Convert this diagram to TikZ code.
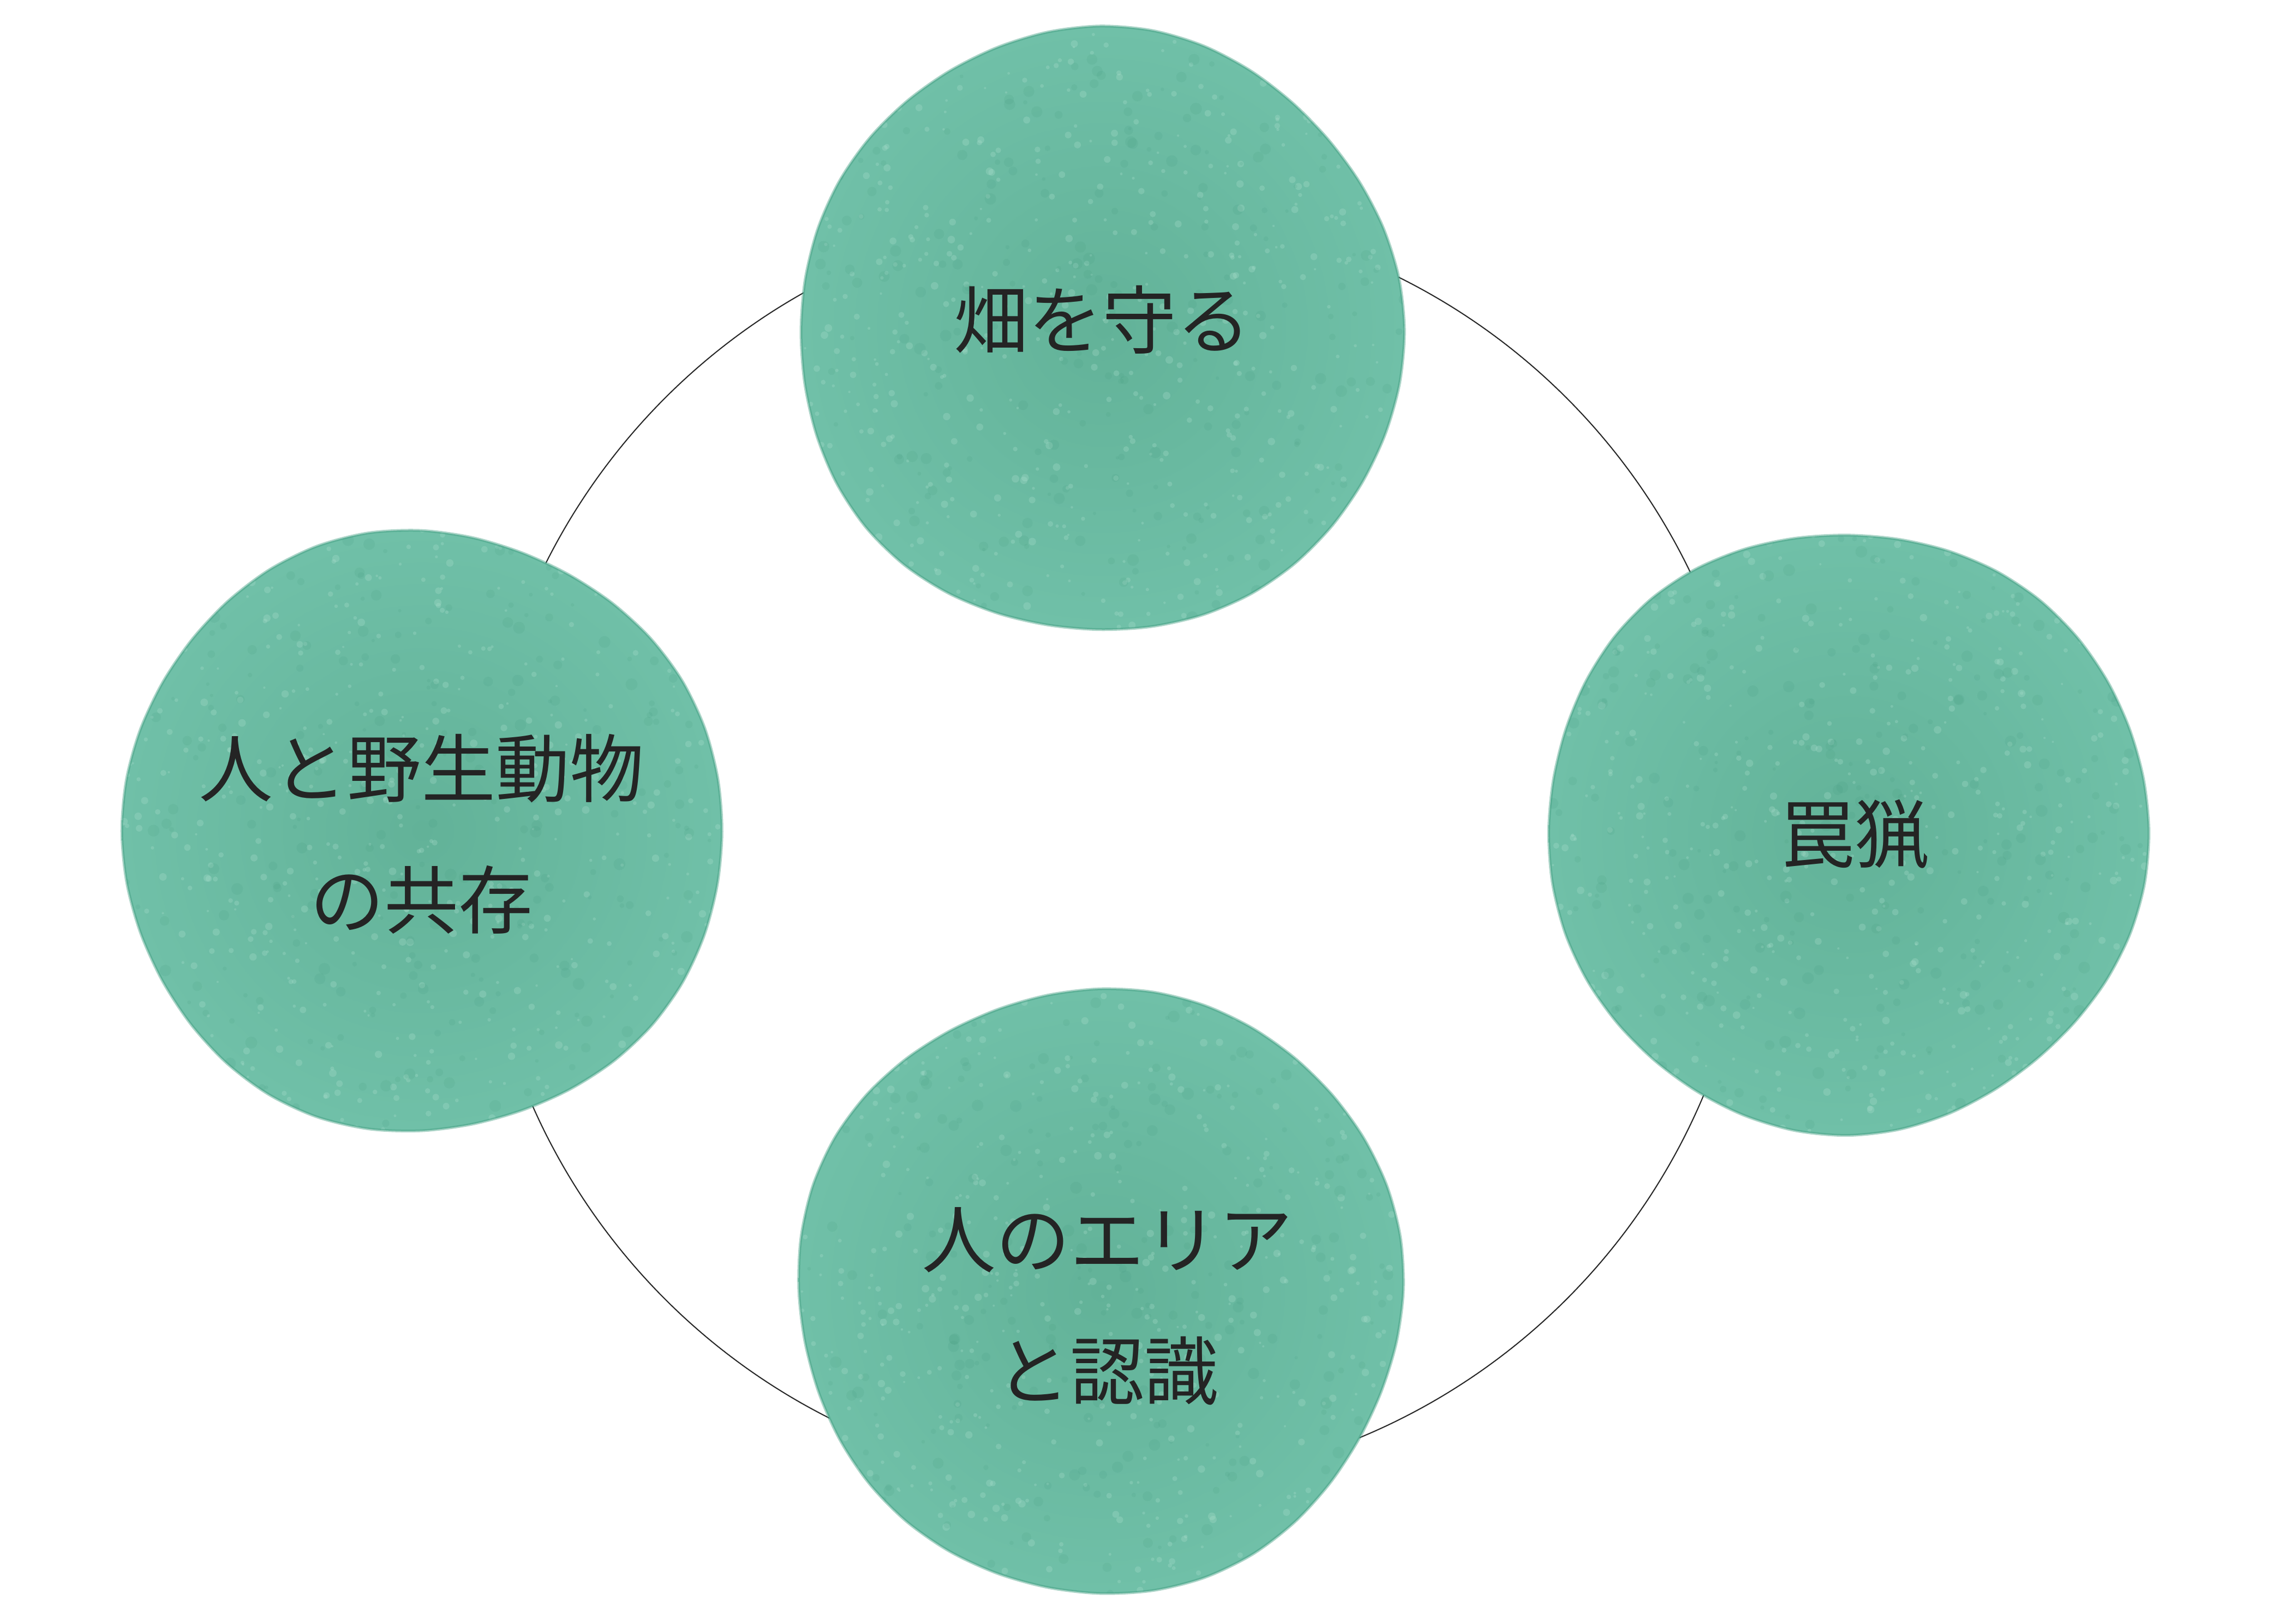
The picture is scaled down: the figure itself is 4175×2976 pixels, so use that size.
\documentclass[tikz,border=0pt]{standalone}
\usepackage{fontspec}
\newfontfamily\jp{Noto Sans CJK JP}
\definecolor{blobin}{RGB}{98,178,152}
\definecolor{blobout}{RGB}{112,192,168}
\definecolor{blobedge}{RGB}{66,158,130}
\definecolor{specklight}{RGB}{175,225,208}
\definecolor{speckdark}{RGB}{62,150,122}
\definecolor{txt}{RGB}{36,36,36}
\newcommand\blobshape[4]{plot[smooth cycle, domain=0:350, samples=36, variable=\t]
  ({#1+#3*(1+0.008*sin(3*\t+#4)+0.006*cos(5*\t+2*#4))*cos(\t)},
   {#2+#3*(1+0.008*sin(3*\t+#4)+0.006*cos(5*\t+2*#4))*sin(\t)})}
\newcommand\drawblob[4]{%
  \shade[inner color=blobin, outer color=blobout] \blobshape{#1}{#2}{#3}{#4};
  \begin{scope}
    \clip \blobshape{#1}{#2}{#3}{#4};
    \foreach \i in {1,...,600}{%
      \pgfmathsetmacro\px{#1+(#3+10)*(2*rnd-1)}%
      \pgfmathsetmacro\py{#2+(#3+10)*(2*rnd-1)}%
      \pgfmathsetmacro\pr{2+5*rnd}%
      \fill[specklight, opacity=0.28] (\px,\py) circle[radius=\pr pt];}
    \foreach \i in {1,...,300}{%
      \pgfmathsetmacro\px{#1+(#3+10)*(2*rnd-1)}%
      \pgfmathsetmacro\py{#2+(#3+10)*(2*rnd-1)}%
      \pgfmathsetmacro\pr{3+8*rnd}%
      \fill[speckdark, opacity=0.12] (\px,\py) circle[radius=\pr pt];}
  \end{scope}
  \draw[line width=5pt, blobedge, opacity=0.45] \blobshape{#1}{#2}{#3}{#4};
}
\begin{document}
\begin{tikzpicture}[x=1pt, y=-1pt,
  ring/.style={draw=txt, line width=2pt},
  lbl/.style={text=txt, font=\jp\fontsize{136}{241}\selectfont, align=center, inner sep=0pt}]
\pgfmathsetseed{7}
\fill[white] (0,0) rectangle (4175,2976);
\useasboundingbox (0,0) rectangle (4175,2976);
\coordinate (ringc) at (2045,1555);
\draw[ring] (ringc) circle[radius=1168pt];
\drawblob{2017}{607}{553}{20}
\drawblob{772}{1524}{550}{80}
\drawblob{3385}{1524}{550}{140}
\drawblob{2017}{2364}{554}{200}
\node[lbl] (nfield) at (2020,586) {畑を守る};
\node[lbl] (ncoexist) at (772,1528) {人と野生動物\\の共存};
\node[lbl] (ntrap) at (3399,1529) {罠猟};
\node[lbl] (narea) at (2029,2394) {人のエリア\\と認識};
\end{tikzpicture}
\end{document}
